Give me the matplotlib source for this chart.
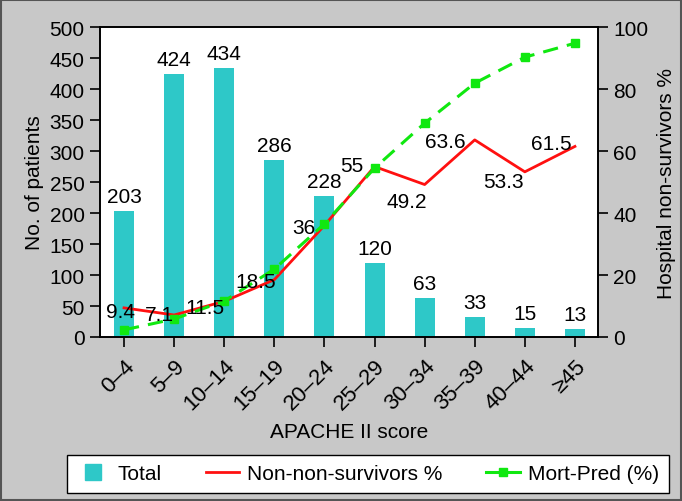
import matplotlib.pyplot as plt
from matplotlib.patches import Rectangle
from matplotlib.lines import Line2D

categories = ['0–4', '5–9', '10–14', '15–19', '20–24', '25–29',
              '30–34', '35–39', '40–44', '≥45']
total = [203, 424, 434, 286, 228, 120, 63, 33, 15, 13]
non_survivors = [9.4, 7.1, 11.5, 18.5, 36, 55, 49.2, 63.6, 53.3, 61.5]
mort_pred = [2.3, 5.8, 11.6, 21.9, 36.5, 54.5, 69.0, 81.9, 90.3, 94.8]

# label offsets (pixels) for the red line values
ns_offsets = [(-4, -4), (-15, 0), (-19, -6), (-19, -2), (-21, -2),
              (-23, 1), (-18, -17), (-29, -2), (-21, -10), (-24, 3)]

plt.rcParams['font.family'] = ['Liberation Sans', 'DejaVu Sans']
fs = 15
bar_color = '#2ec8c8'

fig = plt.figure(figsize=(6.82, 5.02), dpi=100, facecolor='#c8c8c8')
fig.patches.append(Rectangle((0.002, 0.002), 0.996, 0.996, transform=fig.transFigure,
                             fill=False, ec='#555555', lw=1.5))
ax = fig.add_axes([0.1466, 0.3267, 0.7302, 0.6173])
x = list(range(len(categories)))

bars = ax.bar(x, total, width=0.4, color=bar_color, label='Total', zorder=1)
ax.bar_label(bars, padding=3.5, fontsize=fs)
ax.set_ylim(0, 500)
ax.set_yticks(range(0, 501, 50))
ax.set_xlim(-0.48, 9.46)
ax.set_xticks(x)
ax.set_xticklabels(categories, rotation=45, ha='right', rotation_mode='anchor')
ax.set_ylabel('No. of patients', fontsize=fs, labelpad=4)
ax.set_xlabel('APACHE II score', fontsize=fs, labelpad=6)
ax.tick_params(labelsize=fs, width=1.2, length=7, pad=4)
ax.tick_params(axis='x', labelsize=fs + 1, pad=6)

ax2 = ax.twinx()
l1, = ax2.plot(x, non_survivors, color='#ff1010', lw=2, label='Non-non-survivors %')
l2, = ax2.plot(x, mort_pred, color='#10e810', lw=2.2, ls=(0, (5, 3)), marker='s',
               markersize=6, label='Mort-Pred (%)')
ax2.set_ylim(0, 100)
ax2.set_yticks(range(0, 101, 20))
ax2.set_ylabel('Hospital non-survivors %', fontsize=fs, labelpad=6)
ax2.tick_params(labelsize=fs, width=1.2, length=7, pad=4)
for xi, v, off in zip(x, non_survivors, ns_offsets):
    ax2.annotate(f'{v:g}', (xi, v), xytext=off, textcoords='offset pixels',
                 ha='center', va='center', fontsize=fs)

for a in (ax, ax2):
    for s in a.spines.values():
        s.set_linewidth(1.2)

total_handle = Line2D([], [], ls='none', marker='s', markersize=11,
                      markerfacecolor=bar_color, markeredgecolor=bar_color)
green_handle = Line2D([], [], color='#10e810', lw=2.2, marker='s', markersize=6)
leg = fig.legend([total_handle, l1, green_handle],
                 ['Total', 'Non-non-survivors %', 'Mort-Pred (%)'],
                 loc='center', bbox_to_anchor=(0.539, 0.054), ncol=3, fontsize=fs,
                 frameon=True, fancybox=False, edgecolor='black', framealpha=1,
                 borderpad=0.45, handlelength=1.6, columnspacing=2.1,
                 handletextpad=0.4)
leg.get_frame().set_linewidth(1)

fig.savefig('out.png', dpi=100, facecolor=fig.get_facecolor())
